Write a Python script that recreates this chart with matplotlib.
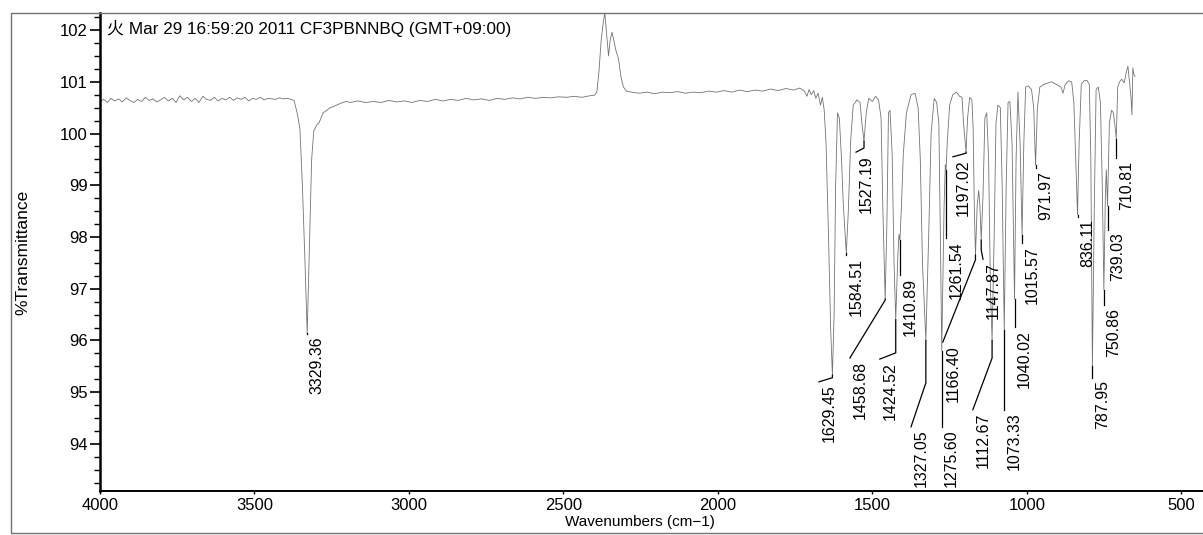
import matplotlib
matplotlib.use("Agg")
import matplotlib.pyplot as plt
from matplotlib.patches import Rectangle
from matplotlib.ticker import MultipleLocator

plt.rcParams["font.family"] = ["Liberation Sans", "Noto Sans CJK JP", "DejaVu Sans"]

# ── spectrum (wavenumber, %T) ───────────────────────────────────────────────
wn_base1 = [4000, 3988, 3976, 3965, 3952, 3940, 3928, 3915, 3903, 3890, 3878, 3866,
            3853, 3841, 3828, 3816, 3804, 3791, 3779, 3766, 3754, 3742, 3729, 3717,
            3704, 3692, 3680, 3667, 3655, 3642, 3630, 3618, 3605, 3593, 3580, 3568,
            3556, 3543, 3531, 3518, 3506, 3494, 3481, 3469, 3456, 3444, 3432, 3419,
            3407, 3394, 3382, 3372]
t_base1 = [100.62, 100.66, 100.60, 100.68, 100.63, 100.67, 100.61, 100.69, 100.64,
           100.60, 100.66, 100.62, 100.70, 100.64, 100.67, 100.61, 100.65, 100.70,
           100.63, 100.68, 100.60, 100.73, 100.65, 100.70, 100.62, 100.68, 100.60,
           100.72, 100.66, 100.64, 100.70, 100.63, 100.68, 100.65, 100.70, 100.64,
           100.69, 100.66, 100.70, 100.63, 100.68, 100.66, 100.70, 100.65, 100.68,
           100.67, 100.66, 100.69, 100.67, 100.68, 100.66, 100.64]

wn_nh = [3362, 3353, 3345, 3337, 3329.36, 3322, 3315, 3308, 3299, 3290, 3278, 3266,
         3255, 3245, 3230, 3215, 3202]
t_nh = [100.40, 100.10, 99.00, 97.60, 96.14, 97.90, 99.50, 100.05, 100.16, 100.22,
        100.40, 100.45, 100.50, 100.52, 100.56, 100.60, 100.62]

wn_base2 = [3190, 3165, 3140, 3115, 3090, 3065, 3040, 3015, 2990, 2965, 2940, 2915,
            2890, 2865, 2840, 2815, 2790, 2765, 2740, 2715, 2690, 2665, 2640, 2615,
            2590, 2565, 2540, 2515, 2490, 2465, 2440, 2415, 2400]
t_base2 = [100.60, 100.63, 100.60, 100.62, 100.60, 100.64, 100.61, 100.63, 100.60,
           100.64, 100.62, 100.66, 100.63, 100.66, 100.64, 100.68, 100.65, 100.67,
           100.64, 100.68, 100.66, 100.69, 100.67, 100.70, 100.68, 100.70, 100.69,
           100.71, 100.70, 100.72, 100.70, 100.73, 100.74]

wn_co2 = [2392, 2385, 2378, 2370, 2366, 2360, 2354, 2349, 2343, 2337, 2330, 2322,
          2314, 2306, 2296]
t_co2 = [100.80, 101.20, 101.80, 102.20, 102.33, 101.90, 101.50, 101.80, 101.96,
         101.80, 101.60, 101.45, 101.10, 100.90, 100.82]

wn_base3 = [2280, 2255, 2230, 2205, 2180, 2155, 2130, 2105, 2080, 2055, 2030, 2005,
            1980, 1955, 1930, 1905, 1880, 1855, 1830, 1805, 1780, 1755, 1735]
t_base3 = [100.80, 100.78, 100.80, 100.77, 100.80, 100.79, 100.81, 100.78, 100.80,
           100.79, 100.82, 100.80, 100.83, 100.80, 100.84, 100.81, 100.84, 100.82,
           100.86, 100.83, 100.87, 100.84, 100.88]

wn_fp = [1720, 1712, 1705, 1698, 1690, 1683, 1676, 1668, 1662, 1656, 1650, 1642,
         1635, 1629.45, 1624, 1619, 1613, 1607, 1600, 1594, 1584.51, 1578, 1570,
         1562, 1550, 1540, 1534, 1527.19, 1520, 1512, 1500, 1490, 1480, 1472, 1466,
         1458.68, 1453, 1448, 1443, 1436, 1430, 1424.52, 1418, 1414, 1410.89, 1406,
         1400, 1390, 1375, 1362, 1352, 1345, 1338, 1327.05, 1318, 1310, 1300, 1292,
         1285, 1280, 1275.60, 1268, 1264, 1261.54, 1258, 1250, 1240, 1228, 1218,
         1210, 1205, 1197.02, 1192, 1185, 1178, 1174, 1170, 1166.40, 1161, 1156,
         1152, 1147.87, 1142, 1136, 1130, 1124, 1118, 1112.67, 1106, 1100, 1094,
         1086, 1080, 1073.33, 1067, 1061, 1055, 1048, 1040.02, 1035, 1029, 1022,
         1015.57, 1010, 1004, 995, 985, 978, 971.97, 966, 958, 945, 935, 920, 905,
         890, 883, 876, 865, 855, 848, 842, 836.11, 831, 824, 815, 806, 798, 793,
         787.95, 782, 776, 769, 762, 756, 750.86, 746, 743, 739.03, 733, 726, 720,
         714, 710.81, 706, 700, 693, 685, 678, 673, 668, 663, 660, 657, 654, 650]
t_fp = [100.82, 100.72, 100.85, 100.75, 100.83, 100.68, 100.78, 100.55, 100.70,
        100.45, 99.80, 98.00, 96.20, 95.33, 96.50, 99.00, 100.40, 100.30, 99.50,
        98.60, 97.69, 98.50, 99.90, 100.55, 100.65, 100.60, 100.20, 99.85, 100.40,
        100.68, 100.62, 100.72, 100.65, 100.30, 98.50, 96.80, 98.30, 100.40, 100.45,
        99.60, 97.50, 96.40, 97.60, 98.05, 97.94, 98.60, 99.60, 100.40, 100.75,
        100.78, 100.50, 99.50, 97.50, 96.00, 98.00, 100.00, 100.68, 100.60, 100.20,
        98.00, 95.80, 98.60, 99.40, 99.30, 99.80, 100.55, 100.75, 100.80, 100.72,
        100.70, 100.20, 99.64, 100.30, 100.70, 100.65, 100.10, 98.50, 97.65, 98.60,
        98.90, 98.60, 97.94, 98.80, 100.30, 100.40, 99.50, 97.00, 96.00, 98.00,
        100.20, 100.55, 100.50, 99.00, 96.20, 99.00, 100.60, 100.62, 99.80, 96.80,
        99.50, 100.80, 99.80, 98.04, 99.80, 100.90, 100.92, 100.85, 100.50, 99.39,
        100.50, 100.90, 100.95, 100.97, 101.00, 100.95, 100.90, 100.78, 100.95,
        101.02, 101.00, 100.60, 99.50, 98.43, 99.80, 100.95, 101.02, 101.03, 100.95,
        99.50, 95.50, 98.50, 100.85, 100.90, 100.60, 99.00, 96.98, 98.80, 99.30,
        98.60, 100.20, 100.45, 100.40, 100.10, 99.90, 100.90, 101.00, 101.05,
        100.98, 101.20, 101.30, 101.00, 100.70, 100.36, 101.27, 101.15, 101.10]

wavenumber = wn_base1 + wn_nh + wn_base2 + wn_co2 + wn_base3 + wn_fp
transmittance = t_base1 + t_nh + t_base2 + t_co2 + t_base3 + t_fp

# ── peak picks ───────────────────────────────────────────────────────────────
peak_wn = [3329.36, 1629.45, 1584.51, 1527.19, 1458.68, 1424.52, 1410.89, 1327.05,
           1275.60, 1261.54, 1197.02, 1166.40, 1147.87, 1112.67, 1073.33, 1040.02,
           1015.57, 971.97, 836.11, 787.95, 750.86, 739.03, 710.81]
peak_t = [96.14, 95.33, 97.69, 99.85, 96.80, 96.40, 97.94, 96.00, 95.80, 99.30,
          99.64, 97.65, 97.94, 96.00, 96.20, 96.80, 98.04, 99.39, 98.43, 95.50,
          96.98, 98.60, 99.90]

# leader layout: knee (%T on the peak line) and end point (wn, %T) of each label
knee_t = [96.13, 95.28, 97.65, 99.72, 96.78, 95.76, 97.27, 95.18, 94.33, 97.98,
          99.62, 97.56, 97.75, 95.66, 94.66, 96.26, 97.88, 99.33, 98.39, 95.28,
          96.69, 98.14, 99.53]
end_wn = [3329.36, 1673, 1584.51, 1553, 1573, 1476, 1410.89, 1375, 1275.60, 1261.54,
          1239.5, 1272, 1142, 1175, 1073.33, 1040.02, 1015.57, 971.97, 836.11,
          787.95, 750.86, 739.03, 710.81]
end_t = [96.13, 95.20, 97.65, 99.64, 95.66, 95.64, 97.27, 94.33, 94.33, 97.98,
         99.55, 95.97, 97.57, 94.66, 94.66, 96.26, 97.88, 99.33, 98.39, 95.28,
         96.69, 98.14, 99.53]

W, H = 1203, 535
fig = plt.figure(figsize=(W / 100, H / 100), dpi=100, facecolor="white")
ax = fig.add_axes([100 / W, 1 - 491 / H, 1 - 100 / W, (491 - 13) / H])

ax.plot(wavenumber, transmittance, color="0.45", linewidth=0.6)

for i, w in enumerate(peak_wn):
    ax.plot([w, w, end_wn[i]], [peak_t[i], knee_t[i], end_t[i]],
            color="black", linewidth=0.9)
    ax.annotate(f"{w:.2f}", xy=(end_wn[i], end_t[i]), xytext=(7.2, -2),
                textcoords="offset points", rotation=90, ha="center", va="top",
                fontsize=11.5, color="black")

ax.set_xlim(4000, 430)
ax.set_ylim(93.09, 102.33)
ax.xaxis.set_major_locator(MultipleLocator(500))
ax.yaxis.set_major_locator(MultipleLocator(1))
ax.yaxis.set_minor_locator(MultipleLocator(0.25))
ax.tick_params(axis="y", which="major", length=7, width=1.2, labelsize=12, pad=2)
ax.tick_params(axis="y", which="minor", length=4, width=1.0)
ax.tick_params(axis="x", which="major", length=2, width=1.0, labelsize=12, pad=3)

for s in ["top", "right"]:
    ax.spines[s].set_visible(False)
ax.spines["left"].set_linewidth(1.8)
ax.spines["bottom"].set_linewidth(1.4)

ax.set_xlabel("Wavenumbers (cm\u22121)", fontsize=11)
ax.xaxis.set_label_coords((640 - 100) / (W - 100), -24 / (491 - 13))
ax.set_ylabel("%Transmittance", fontsize=12.5)
ax.yaxis.set_label_coords(-70 / (W - 100), 0.5)

ax.text(0.006, 0.985, "火 Mar 29 16:59:20 2011 CF3PBNNBQ (GMT+09:00)",
        transform=ax.transAxes, ha="left", va="top", fontsize=12.3)

# outer scan frame
fig.patches.append(Rectangle((11 / W, 1 - 533 / H), 1.2, (533 - 13) / H,
                             transform=fig.transFigure, fill=False,
                             edgecolor="0.45", linewidth=1.0))

fig.savefig("out.png", dpi=100, facecolor="white")
